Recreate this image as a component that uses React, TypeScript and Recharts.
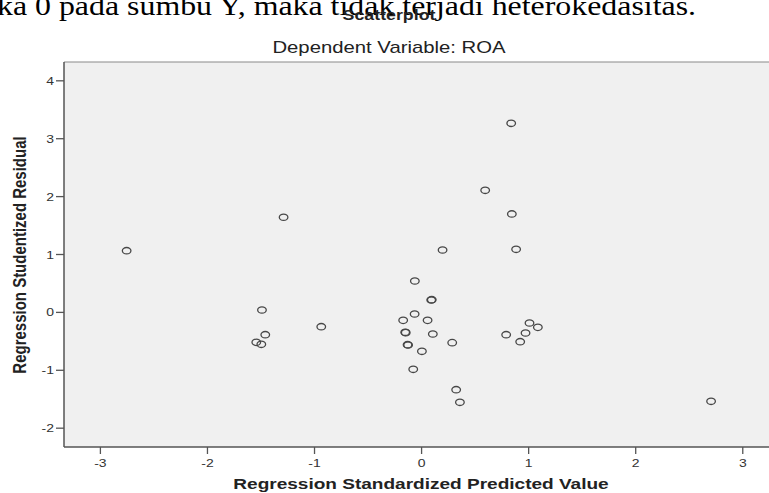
import {
  ReferenceArea,
  ReferenceLine,
  Scatter,
  ScatterChart,
  XAxis,
  YAxis,
} from "recharts";

// Regression standardized predicted value (x) and studentized residual (y), one per case
const predicted = [
  -2.755, -1.289, -1.491, -0.937, -1.46, -1.544, -1.497, -0.063, 0.09, 0.095,
  -0.065, -0.172, 0.056, -0.153, -0.148, 0.105, 0.286, -0.131, -0.126, 0.003,
  -0.078, 0.323, 0.358, 0.837, 0.594, 0.843, 0.883, 0.196, 1.008, 1.086, 0.971,
  0.79, 0.921, 2.704,
];
const residual = [
  1.066, 1.643, 0.041, -0.247, -0.385, -0.517, -0.551, 0.542, 0.214, 0.219,
  -0.028, -0.137, -0.137, -0.344, -0.35, -0.373, -0.523, -0.558, -0.563, -0.672,
  -0.983, -1.335, -1.553, 3.266, 2.109, 1.7, 1.09, 1.078, -0.183, -0.258, -0.356,
  -0.385, -0.506, -1.536,
];
const xTicks = [-3, -2, -1, 0, 1, 2, 3];
const yTicks = [-2, -1, 0, 1, 2, 3, 4];

const X_DOMAIN: [number, number] = [-3.34, 3.245];
const Y_DOMAIN: [number, number] = [-2.325, 4.325];

const data = predicted.map((x, i) => ({ x, y: residual[i] }));

// the source picture is stretched sideways, so text gets the same stretch
const SX = 1.27;
const FONT = "'Liberation Sans', Arial, sans-serif";

function Ring(props: { cx?: number; cy?: number }) {
  const { cx, cy } = props;
  if (cx == null || cy == null) return null;
  return (
    <ellipse
      cx={cx}
      cy={cy}
      rx={4.3}
      ry={3.2}
      fill="none"
      stroke="#474747"
      strokeWidth={1.3}
    />
  );
}

function XTick(props: { x?: number; y?: number; payload?: { value: number } }) {
  const { x = 0, y = 0, payload } = props;
  return (
    <text
      transform={`translate(${x},${y + 11}) scale(${SX},1)`}
      textAnchor="middle"
      fontFamily={FONT}
      fontSize={11}
      fill="#333"
    >
      {payload?.value}
    </text>
  );
}

function YTick(props: { x?: number; y?: number; payload?: { value: number } }) {
  const { x = 0, y = 0, payload } = props;
  return (
    <text
      transform={`translate(${x},${y + 4}) scale(${SX},1)`}
      textAnchor="end"
      fontFamily={FONT}
      fontSize={11}
      fill="#333"
    >
      {payload?.value}
    </text>
  );
}

export default function App() {
  return (
    <div
      style={{
        position: "absolute",
        left: 0,
        top: 0,
        width: 769,
        height: 493,
        background: "#fff",
        overflow: "hidden",
      }}
    >
      <ScatterChart
        width={769}
        height={493}
        margin={{ top: 62, right: 0, bottom: 0, left: 0 }}
      >
        <ReferenceArea
          x1={X_DOMAIN[0]}
          x2={X_DOMAIN[1]}
          y1={Y_DOMAIN[0]}
          y2={Y_DOMAIN[1]}
          fill="#f0f0f0"
          fillOpacity={1}
          stroke="none"
        />
        <ReferenceLine y={Y_DOMAIN[1]} stroke="#8a8a8a" strokeWidth={1.2} />
        <XAxis
          type="number"
          dataKey="x"
          domain={X_DOMAIN}
          ticks={xTicks}
          allowDataOverflow
          height={46}
          tickSize={7}
          tickMargin={2}
          axisLine={{ stroke: "#555", strokeWidth: 1.5 }}
          tickLine={{ stroke: "#555", strokeWidth: 1.3 }}
          tick={<XTick />}
        />
        <YAxis
          type="number"
          dataKey="y"
          domain={Y_DOMAIN}
          ticks={yTicks}
          allowDataOverflow
          width={64}
          tickSize={8}
          tickMargin={2}
          axisLine={{ stroke: "#555", strokeWidth: 1.5 }}
          tickLine={{ stroke: "#555", strokeWidth: 1.3 }}
          tick={<YTick />}
        />
        <Scatter data={data} shape={<Ring />} isAnimationActive={false} />
      </ScatterChart>

      <svg
        width={769}
        height={493}
        style={{ position: "absolute", left: 0, top: 0, pointerEvents: "none" }}
      >
        <text
          x={-3}
          y={15}
          fontFamily="'Liberation Serif', 'Times New Roman', serif"
          fontSize={28}
          textLength={699}
          lengthAdjust="spacingAndGlyphs"
          fill="#000"
        >
          ka 0 pada sumbu Y, maka tidak terjadi heterokedasitas.
        </text>
        <text
          transform={`translate(389,20) scale(${SX},1)`}
          textAnchor="middle"
          fontFamily={FONT}
          fontWeight="bold"
          fontSize={14}
          fill="#222"
        >
          Scatterplot
        </text>
        <text
          transform={`translate(389,53) scale(${SX},1)`}
          textAnchor="middle"
          fontFamily={FONT}
          fontSize={16}
          fill="#222"
        >
          Dependent Variable: ROA
        </text>
        <text
          transform={`translate(421,489) scale(${SX},1)`}
          textAnchor="middle"
          fontFamily={FONT}
          fontWeight="bold"
          fontSize={15}
          fill="#222"
        >
          Regression Standardized Predicted Value
        </text>
        <text
          transform={`translate(26,255) scale(${SX},1) rotate(-90)`}
          textAnchor="middle"
          fontFamily={FONT}
          fontWeight="bold"
          fontSize={15}
          fill="#222"
        >
          Regression Studentized Residual
        </text>
      </svg>
    </div>
  );
}
